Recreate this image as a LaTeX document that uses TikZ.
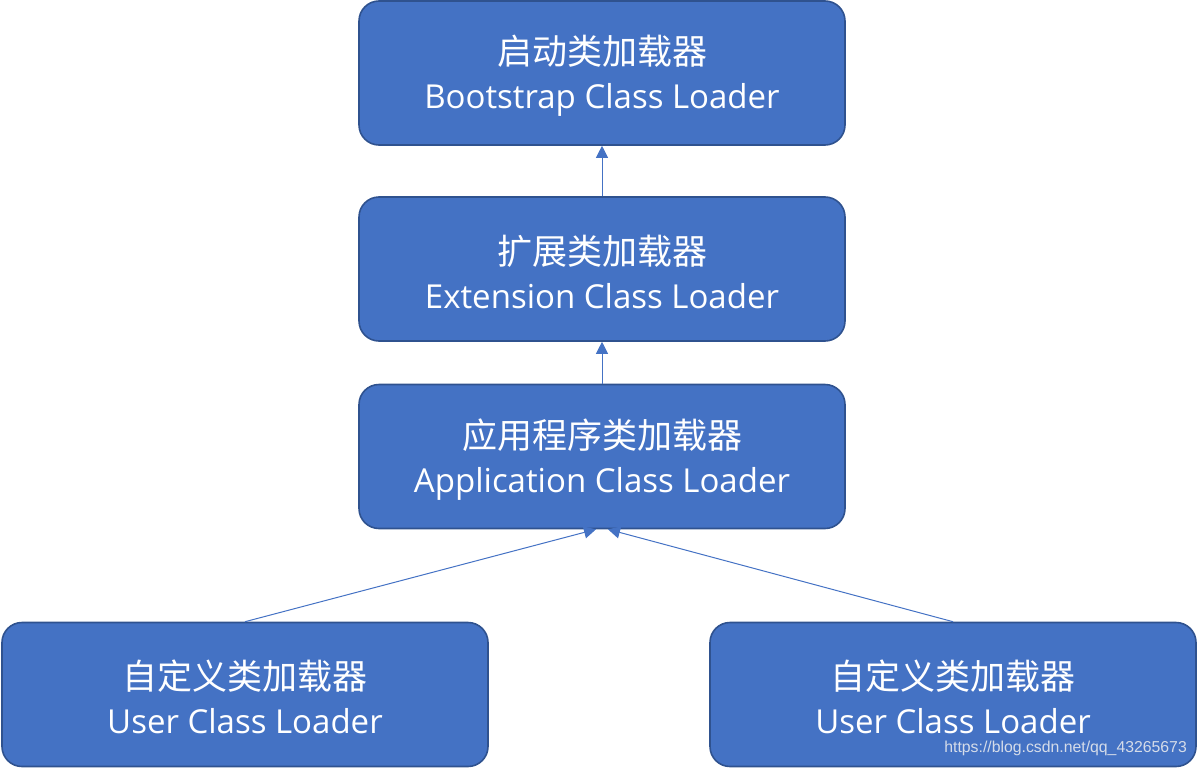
\documentclass[tikz,border=0pt]{standalone}
\usepackage{fontspec}
\setmainfont{Open Sans}
\newfontfamily\cjk{Noto Sans CJK SC}
\newfontfamily\urlfont{Liberation Sans}
\usetikzlibrary{arrows.meta}

\definecolor{boxfill}{HTML}{4472C4}
\definecolor{boxline}{HTML}{2F528F}

\newcommand{\zhline}[1]{{\cjk\fontsize{35}{44}\selectfont\rule{0pt}{35pt}#1}}

\tikzset{
  loader/.style={draw=boxline, line width=1.6pt, fill=boxfill, rounded corners=20pt,
    minimum width=486pt, minimum height=144pt, text=white, align=center,
    font=\fontsize{33}{44}\selectfont},
  parentof/.style={draw=boxfill, line width=1pt, -{Triangle[width=12pt,length=12pt]}}
}

\begin{document}
\begin{tikzpicture}[x=1pt,y=-1pt]
\useasboundingbox (0,0) rectangle (1198,768);
\node[loader] (boot) at (602,73) {\zhline{启动类加载器}\\Bootstrap Class Loader};
\node[loader] (ext) at (602,269) {\zhline{扩展类加载器}\\Extension Class Loader};
\node[loader] (app) at (602,456.5) {\zhline{应用程序类加载器}\\Application Class Loader};
\node[loader] (user1) at (245,694.5) {\zhline{自定义类加载器}\\User Class Loader};
\node[loader] (user2) at (953,694.5) {\zhline{自定义类加载器}\\User Class Loader};
% watermark
\node[anchor=east, text=white!80!boxline, font=\urlfont\fontsize{15.8}{16}\selectfont, inner sep=0pt] (mark) at (1187,748) {https://blog.csdn.net/qq\_43265673};

\draw[parentof] (ext.north) -- (boot.south);
\draw[parentof] (app.north) -- (ext.south);
\draw[parentof] (user1.north) -- ([xshift=-6pt]app.south);
\draw[parentof] (user2.north) -- ([xshift=6pt]app.south);
\end{tikzpicture}
\end{document}
